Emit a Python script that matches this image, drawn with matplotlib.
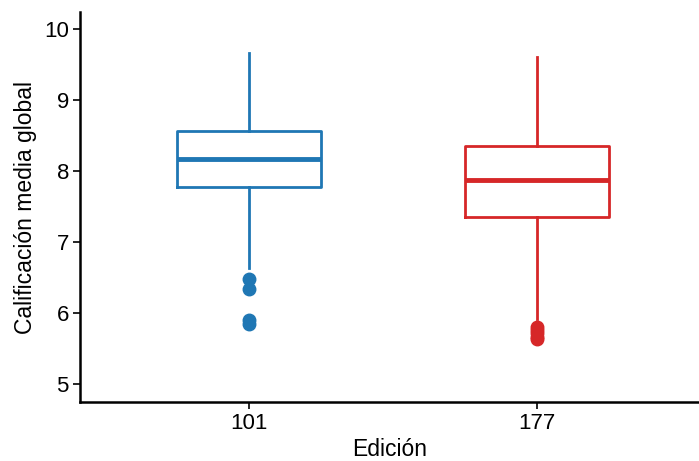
import matplotlib
matplotlib.use("Agg")
import matplotlib.pyplot as plt

plt.rcParams['font.family'] = ['Liberation Sans', 'DejaVu Sans']

ediciones = ["101", "177"]
colores = ["#1f77b4", "#d62728"]
# five-number summaries
whisker_low = [6.63, 5.92]
q1 = [7.77, 7.35]
medianas = [8.17, 7.87]
q3 = [8.56, 8.35]
whisker_high = [9.66, 9.61]
outliers = [[6.48, 6.34, 5.90, 5.85], [5.80, 5.76, 5.72, 5.67, 5.63]]


def main():
    fig = plt.figure(figsize=(6.99, 4.61), dpi=100)
    ax = fig.add_axes([80 / 699, 59 / 461, 619 / 699, 390 / 461])

    for i in range(len(ediciones)):
        stats = [{
            "whislo": whisker_low[i], "q1": q1[i], "med": medianas[i],
            "q3": q3[i], "whishi": whisker_high[i], "fliers": outliers[i],
        }]
        c = colores[i]
        ax.bxp(stats, positions=[i + 1], widths=0.5, showcaps=False,
               boxprops=dict(color=c, linewidth=2),
               whiskerprops=dict(color=c, linewidth=2),
               medianprops=dict(color=c, linewidth=3.5, solid_capstyle="butt"),
               flierprops=dict(marker="o", markerfacecolor=c, markeredgecolor=c,
                               markersize=9))

    ax.set_xlim(0.413, 2.562)
    ax.set_ylim(4.75, 10.24)
    ax.set_xticks([1, 2])
    ax.set_xticklabels(ediciones)
    ax.set_yticks([5, 6, 7, 8, 9, 10])
    ax.set_xlabel("Edición", fontsize=16.5, labelpad=3)
    ax.set_ylabel("Calificación media global", fontsize=16.5, labelpad=5)
    ax.tick_params(labelsize=16, length=5, width=1.2, pad=3, colors="black")
    for s in ["top", "right"]:
        ax.spines[s].set_visible(False)
    for s in ["left", "bottom"]:
        ax.spines[s].set_linewidth(1.8)

    fig.savefig("out.png", dpi=100)


if __name__ == "__main__":
    main()
